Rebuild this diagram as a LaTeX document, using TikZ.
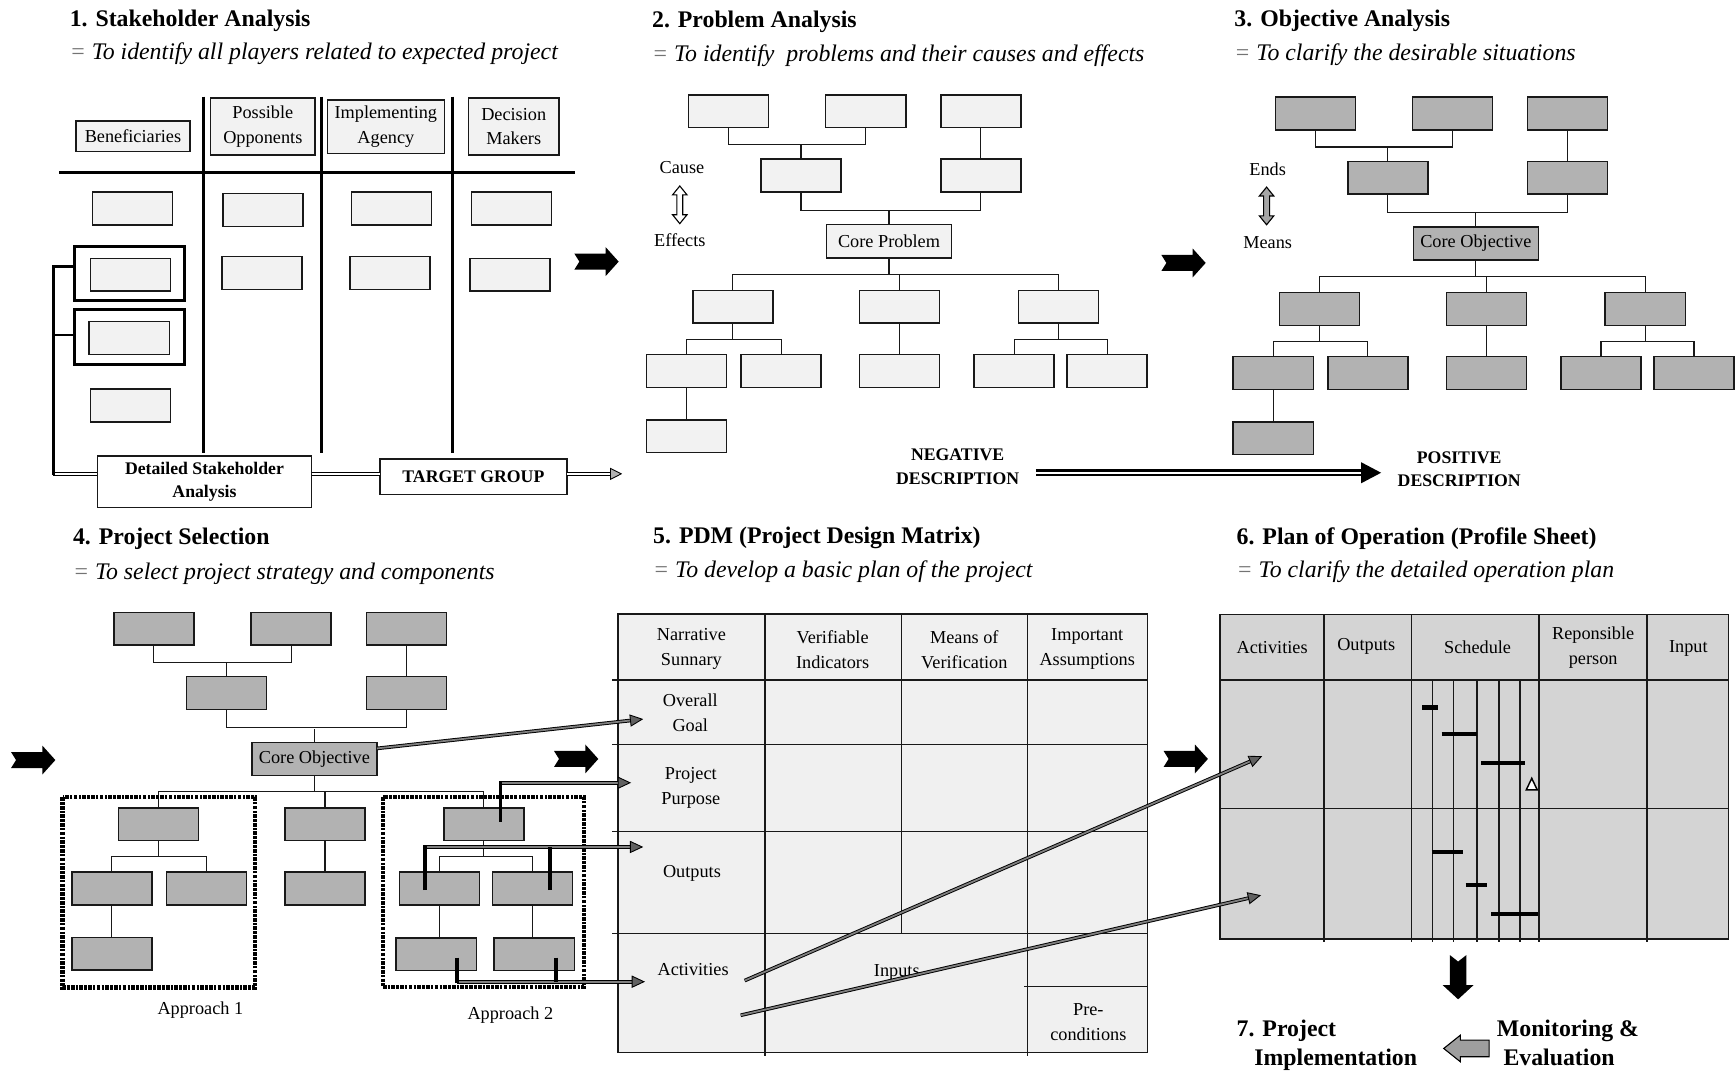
\documentclass[tikz,border=0pt]{standalone}
\usepackage{fontspec}
\setmainfont{Liberation Serif}
\usetikzlibrary{arrows.meta,calc}

% cause/effect tree: three top boxes, two intermediate boxes, the core box,
% three branches and their sub-branches (#1 name prefix, #2 box style, #3 core text)
\newcommand{\lfatree}[3]{%
  \node[#2] (#1a1) at (658,100.5) {};
  \node[#2] (#1a2) at (782,100.5) {};
  \node[#2] (#1a3) at (886,100.5) {};
  \node[#2] (#1b1) at (723.5,158.5) {};
  \node[#2] (#1b2) at (886,158.5) {};
  \node[#2,corebox] (#1c) at (803,218) {#3};
  \node[#2] (#1d1) at (662,277) {};
  \node[#2] (#1d2) at (812.5,277) {};
  \node[#2] (#1d3) at (956,277) {};
  \node[#2] (#1e1) at (620,335) {};
  \node[#2] (#1e2) at (705.5,335) {};
  \node[#2] (#1e3) at (812.5,335) {};
  \node[#2] (#1e4) at (916,335) {};
  \node[#2] (#1e5) at (1000,335) {};
  \node[#2] (#1f1) at (620,394) {};
  \draw[conn] (#1a1.south) -- ++(0,15.5) -| (#1a2.south);
  \draw[conn] (#1b1.north) -- ++(0,-13.5);
  \draw[conn] (#1a3.south) -- (#1b2.north);
  \draw[conn] (#1b1.south) -- ++(0,16.5) -| (#1b2.south);
  \draw[conn] (#1c.north) -- ++(0,-12.5);
  \draw[conn] (#1c.south) -- ++(0,15);
  \draw[conn] (#1d1.north) -- ++(0,-14.5) -| (#1d3.north);
  \draw[conn] (#1d2.north) -- ++(0,-14.5);
  \draw[conn] (#1d1.south) -- ++(0,15);
  \draw[conn] (#1e1.north) -- ++(0,-14) -| (#1e2.north);
  \draw[conn] (#1d2.south) -- (#1e3.north);
  \draw[conn] (#1d3.south) -- ++(0,15);
  \draw[conn] (#1e4.north) -- ++(0,-14) -| (#1e5.north);
  \draw[conn] (#1e1.south) -- (#1f1.north);
}

% solid black step arrow with a notched tail (#1 tail x, #2 centre y)
\newcommand{\fatarrow}[2]{%
  \fill[black] (#1,#2-7.2) -- (#1+28.3,#2-7.2) -- (#1+28.3,#2-13) -- (#1+40,#2)
    -- (#1+28.3,#2+13) -- (#1+28.3,#2+7.2) -- (#1,#2+7.2) -- (#1+4.5,#2) -- cycle;}

% hollow two-headed vertical arrow (#1 x, #2 top, #3 bottom, #4 fill)
\newcommand{\updown}[4]{%
  \filldraw[fill=#4, draw=black, line width=1pt, line join=miter]
    (#1,#2) -- (#1+6.5,#2+8) -- (#1+2.7,#2+8) -- (#1+2.7,#3-8) -- (#1+6.5,#3-8)
    -- (#1,#3) -- (#1-6.5,#3-8) -- (#1-2.7,#3-8) -- (#1-2.7,#2+8) -- (#1-6.5,#2+8) -- cycle;}

% grey triangular head for the double-line arrows (#1 point before, #2 tip)
\newcommand{\gtip}[2]{%
  \draw[line width=0.8pt, -{Triangle[length=12pt,width=11pt,fill=black!62]}]
    ($(#2)!1pt!(#1)$) -- (#2);}

\begin{document}
\begin{tikzpicture}[x=1pt,y=-1pt,
  every node/.style={inner sep=0pt, outer sep=0pt},
  bodyfont/.style={font=\fontsize{16.5}{22.5}\selectfont},
  boldbody/.style={font=\fontsize{16}{21}\selectfont\bfseries},
  lbox/.style={draw=black!90, fill=black!5, line width=1.3pt,
    minimum width=72.3pt, minimum height=29.5pt},
  gbox/.style={lbox, fill=black!30},
  corebox/.style={minimum width=113pt, minimum height=30pt, bodyfont},
  hbox/.style={lbox, bodyfont, align=center},
  wbox/.style={draw=black!90, fill=white, line width=1.2pt, boldbody, align=center},
  frame/.style={draw=black, line width=2.8pt},
  conn/.style={line width=1pt, draw=black!90},
  divider/.style={line width=2.8pt, draw=black},
  dline/.style={draw=black, line width=0.8pt, double=white, double distance=1.4pt},
  gshaft/.style={draw=black, line width=0.85pt, double=black!50,
    double distance=1.6pt, shorten >=10pt},
  stem/.style={draw=black, line width=3.2pt},
  dashbox/.style={draw=black, line width=3.8pt,
    dash pattern=on 3.4pt off 1.1pt on 2.2pt off 1.1pt},
  tline/.style={draw=black!90, line width=1.3pt},
  bar/.style={draw=black, line width=3.8pt},
  cellt/.style={bodyfont, align=center},
  ttl/.style={anchor=base west, font=\fontsize{21.5}{24}\selectfont\bfseries},
  sub/.style={anchor=base west, font=\fontsize{21.5}{24}\selectfont\itshape}]

\useasboundingbox (0,0) rectangle (1568,968);
\fill[white] (0,0) rectangle (1568,968);

% ---------------- headings ----------------
\node[ttl] (t1) at (63,23.5) {1. Stakeholder Analysis};
\node[sub] (s1) at (63,54) {\textcolor{black!55}{=} To identify all players related to expected project};
\node[ttl] (t2) at (589,24.7) {2. Problem Analysis};
\node[sub] (s2) at (589,55.7) {\textcolor{black!55}{=} To identify\ \ problems and their causes and effects};
\node[ttl] (t3) at (1115,23.5) {3. Objective Analysis};
\node[sub] (s3) at (1115,54.2) {\textcolor{black!55}{=} To clarify the desirable situations};
\node[ttl] (t4) at (66,492) {4. Project Selection};
\node[sub] (s4) at (66,523) {\textcolor{black!55}{=} To select project strategy and components};
\node[ttl] (t5) at (590,491) {5. PDM (Project Design Matrix)};
\node[sub] (s5) at (590,521.3) {\textcolor{black!55}{=} To develop a basic plan of the project};
\node[ttl] (t6) at (1117,491.5) {6. Plan of Operation (Profile Sheet)};
\node[sub] (s6) at (1117,521.5) {\textcolor{black!55}{=} To clarify the detailed operation plan};

% ---------------- 1. stakeholder analysis ----------------
\draw[divider] (53.3,155.7) -- (519,155.7);
\foreach \x in {183.7,290.5,408.6} \draw[divider] (\x,87.3) -- (\x,409.5);

\node[hbox, minimum width=102.9pt, minimum height=27.4pt] (benh) at (120.1,123) {Beneficiaries};
\node[hbox, minimum width=94.2pt, minimum height=51.5pt] (opph) at (237.4,114.3) {Possible\\Opponents};
\node[hbox, minimum width=105.6pt, minimum height=48.2pt] (imph) at (348.5,114.4) {Implementing\\Agency};
\node[hbox, minimum width=82pt, minimum height=51.5pt] (dech) at (464,114.3) {Decision\\Makers};

\node[lbox] (b1) at (119.9,188.3) {};
\node[lbox] (o1) at (237.6,189.7) {};
\node[lbox] (i1) at (353.8,188.3) {};
\node[lbox] (d1) at (462.2,188.3) {};
\node[lbox] (b2) at (118,248.2) {};
\node[lbox] (o2) at (236.7,246.6) {};
\node[lbox] (i2) at (352.3,246.6) {};
\node[lbox] (d2) at (460.7,248.2) {};
\node[lbox] (b3) at (116.7,305.2) {};
\node[lbox] (b4) at (118,366.3) {};
\node[frame, minimum width=99.1pt, minimum height=48.8pt] (f2) at (116.7,247.2) {};
\node[frame, minimum width=99.1pt, minimum height=49.6pt] (f3) at (116.7,304.2) {};

\node[wbox, minimum width=193.6pt, minimum height=46.7pt] (dsa) at (184.7,435.3) {Detailed Stakeholder\\Analysis};
\node[wbox, minimum width=169pt, minimum height=32pt] (tg) at (427.6,430.5) {TARGET GROUP};

\coordinate (brk) at (48.2,428);
\coordinate (tgtip) at (562,428);
\draw[dline] (brk) -- (brk -| dsa.west);
\draw[dline] (dsa.east |- brk) -- (brk -| tg.west);
\draw[dline, shorten >=10pt] (tg.east |- brk) -- (tgtip);
\draw[line width=0.8pt, -{Triangle[length=11pt,width=11pt,fill=black!30]}] ($(tgtip)+(-1,0)$) -- (tgtip);
\draw[line width=2.6pt] ($(f2.west)+(0,-6.3)$) -| ($(brk)+(0,1.2)$);
\draw[line width=2.6pt] ($(f3.west)+(0,-1.6)$) -- ++(-18.5,0);

\fatarrow{518.8}{236.3}

% ---------------- 2. problem analysis ----------------
\lfatree{p}{lbox}{Core Problem}
\node[bodyfont] (cause) at (616,151) {Cause};
\node[bodyfont] (effects) at (614,217) {Effects};
\updown{614}{168}{202}{white}

\node[boldbody, align=center] (neg) at (865,421.5) {NEGATIVE\\DESCRIPTION};
\node[boldbody, align=center] (pos) at (1318,423.5) {POSITIVE\\DESCRIPTION};
\coordinate (ndA) at ($(neg.east)+(15,5.5)$);
\coordinate (ndB) at ($(pos.west)+(-15,3.5)$);
\draw[line width=2.4pt, double=white, double distance=1.6pt, shorten >=16pt] (ndA) -- (ndB);
\fill[black] (ndB) -- ++(-18,-9.5) -- ++(0,19) -- cycle;

\fatarrow{1049}{237.5}

% ---------------- 3. objective analysis ----------------
\begin{scope}[shift={(530,2)}]
  \lfatree{o}{gbox}{Core Objective}
\end{scope}
\node[bodyfont] (ends) at (1145,153) {Ends};
\node[bodyfont] (means) at (1145,219) {Means};
\updown{1144}{169}{203}{black!35}

% ---------------- 4. project selection ----------------
\fatarrow{10}{686.5}
\begin{scope}[shift={(-519,467.5)}]
  \lfatree{s}{gbox}{Core Objective}
  \node[gbox] (sf4) at (913,394.5) {};
  \node[gbox] (sf5) at (1001.5,394.5) {};
\end{scope}
\draw[conn] (se4.south) -- (se4.south |- sf4.north);
\draw[conn] (se5.south) -- (se5.south |- sf5.north);

\draw[dashbox] (56.5,720) rectangle (230.5,892);
\draw[dashbox] (345.6,720) rectangle (527.5,891.5);
\node[bodyfont] (ap1) at (181,912) {Approach 1};
\node[bodyfont] (ap2) at (461,917) {Approach 2};

\fatarrow{500.4}{685.5}

% ---------------- 5. PDM ----------------
\fill[black!6] (558,554.5) rectangle (1036.5,950.5);
\draw[tline] (558,554.5) rectangle (1036.5,950.5);
\draw[tline] (691,554.5) -- (691,954);
\draw[tline] (814,554.5) -- (814,843);
\draw[tline] (928,554.5) -- (928,954);
\foreach \y in {614,672.5,751,843} \draw[tline] (553,\y) -- (1036.5,\y);
\draw[tline] (925,891) -- (1036.5,891);

\node[cellt] (nsum) at (624.5,586.5) {Narrative\\Sunnary};
\node[cellt] (vind) at (752,586.5) {Verifiable\\Indicators};
\node[cellt] (mver) at (871,586.5) {Means of\\Verification};
\node[cellt] (iass) at (982,586.5) {Important\\Assumptions};
\node[cellt] (ogoal) at (623.5,643.5) {Overall\\Goal};
\node[cellt] (ppur) at (624,712) {Project\\Purpose};
\node[cellt] (pout) at (625,789) {Outputs};
\node[cellt] (pact) at (626,876) {Activities};
\node[cellt] (pinp) at (810,878) {Inputs};
\node[cellt] (prec) at (983,923) {Pre-\\conditions};

\fatarrow{1051}{685.5}

% ---------------- 6. plan of operation ----------------
\fill[black!17] (1102,555) rectangle (1561,848);
\draw[tline] (1102,555) rectangle (1561,848);
\foreach \x in {1196,1275,1390,1487.5} \draw[tline] (\x,555) -- (\x,851);
\foreach \y in {614,730} \draw[tline] (1102,\y) -- (1561,\y);
\foreach \x in {1294,1313,1334,1354,1373} \draw[tline] (\x,614) -- (\x,851);

\node[cellt] (qact) at (1149,585) {Activities};
\node[cellt] (qout) at (1234,584) {Outputs};
\node[cellt] (qsch) at (1334.6,585) {Schedule};
\node[cellt] (qres) at (1439,585) {Reponsible\\person};
\node[cellt] (qinp) at (1525,586) {Input};

\draw[bar] (1284.6,639) -- (1299.2,639);
\draw[bar] (1302,663) -- (1334.3,663);
\draw[bar] (1338,689) -- (1377,689);
\draw[line width=1.3pt, fill=white, line join=miter] (1378.5,713.5) -- (1388.5,713.5) -- (1383.5,703) -- cycle;
\draw[bar] (1293,769.7) -- (1321.6,769.7);
\draw[bar] (1323.8,799) -- (1343.3,799);
\draw[bar] (1347,825.5) -- (1389,825.5);

% down arrow to implementation
\fill[black] (1309.5,862.6) -- (1317,868.5) -- (1324.5,862.6) -- (1324.5,889.7) -- (1331,889.7)
  -- (1317,902.6) -- (1303,889.7) -- (1309.5,889.7) -- cycle;

% ---------------- 7. implementation ----------------
\node[ttl] (t7a) at (1117,936) {7. Project};
\node[ttl] (t7b) at (1133,962) {Implementation};
\node[ttl] (me1) at (1352,936) {Monitoring \&};
\node[ttl] (me2) at (1358,962) {Evaluation};
\filldraw[fill=black!38, draw=black, line width=1pt, line join=miter]
  (1304,947) -- (1319,935) -- (1319,939.5) -- (1345,939.5) -- (1345,954.5)
  -- (1319,954.5) -- (1319,959) -- cycle;

% ---------------- links from selection to PDM, PDM to plan ----------------
\coordinate (coS) at ($(sc.east)+(0,-9.5)$);
\coordinate (cogoal) at (581,649.5);
\draw[gshaft] (coS) -- (cogoal);
\gtip{coS}{cogoal}

\coordinate (ppA) at (452,742);
\coordinate (ppT) at (570,707);
\coordinate (ppK) at (ppA |- ppT);
\draw[gshaft] (ppK) -- (ppT);
\gtip{ppK}{ppT}
\draw[stem] (ppA) -- ($(ppK)+(0,-1.6)$);

\coordinate (ouA) at (384,804);
\coordinate (ouB) at (497,804);
\coordinate (ouT) at (581,765);
\coordinate (ouK) at (ouA |- ouT);
\draw[gshaft] (ouK) -- (ouT);
\gtip{ouK}{ouT}
\draw[stem] (ouA) -- ($(ouK)+(0,-1.6)$);
\draw[stem] (ouB) -- (ouB |- ouT);

\coordinate (acA) at (413,865);
\coordinate (acB) at (502,865);
\coordinate (acT) at (582.6,886.7);
\coordinate (acK) at (acA |- acT);
\draw[gshaft] (acK) -- (acT);
\gtip{acK}{acT}
\draw[stem] (acA) -- ($(acK)+(0,1.6)$);
\draw[stem] (acB) -- (acB |- acT);

\coordinate (acS1) at (672.6,885.7);
\coordinate (plT1) at (1140,683);
\draw[gshaft] (acS1) -- (plT1);
\gtip{acS1}{plT1}
\coordinate (acS2) at (669,917);
\coordinate (plT2) at (1139,808.6);
\draw[gshaft] (acS2) -- (plT2);
\gtip{acS2}{plT2}

\end{tikzpicture}
\end{document}
